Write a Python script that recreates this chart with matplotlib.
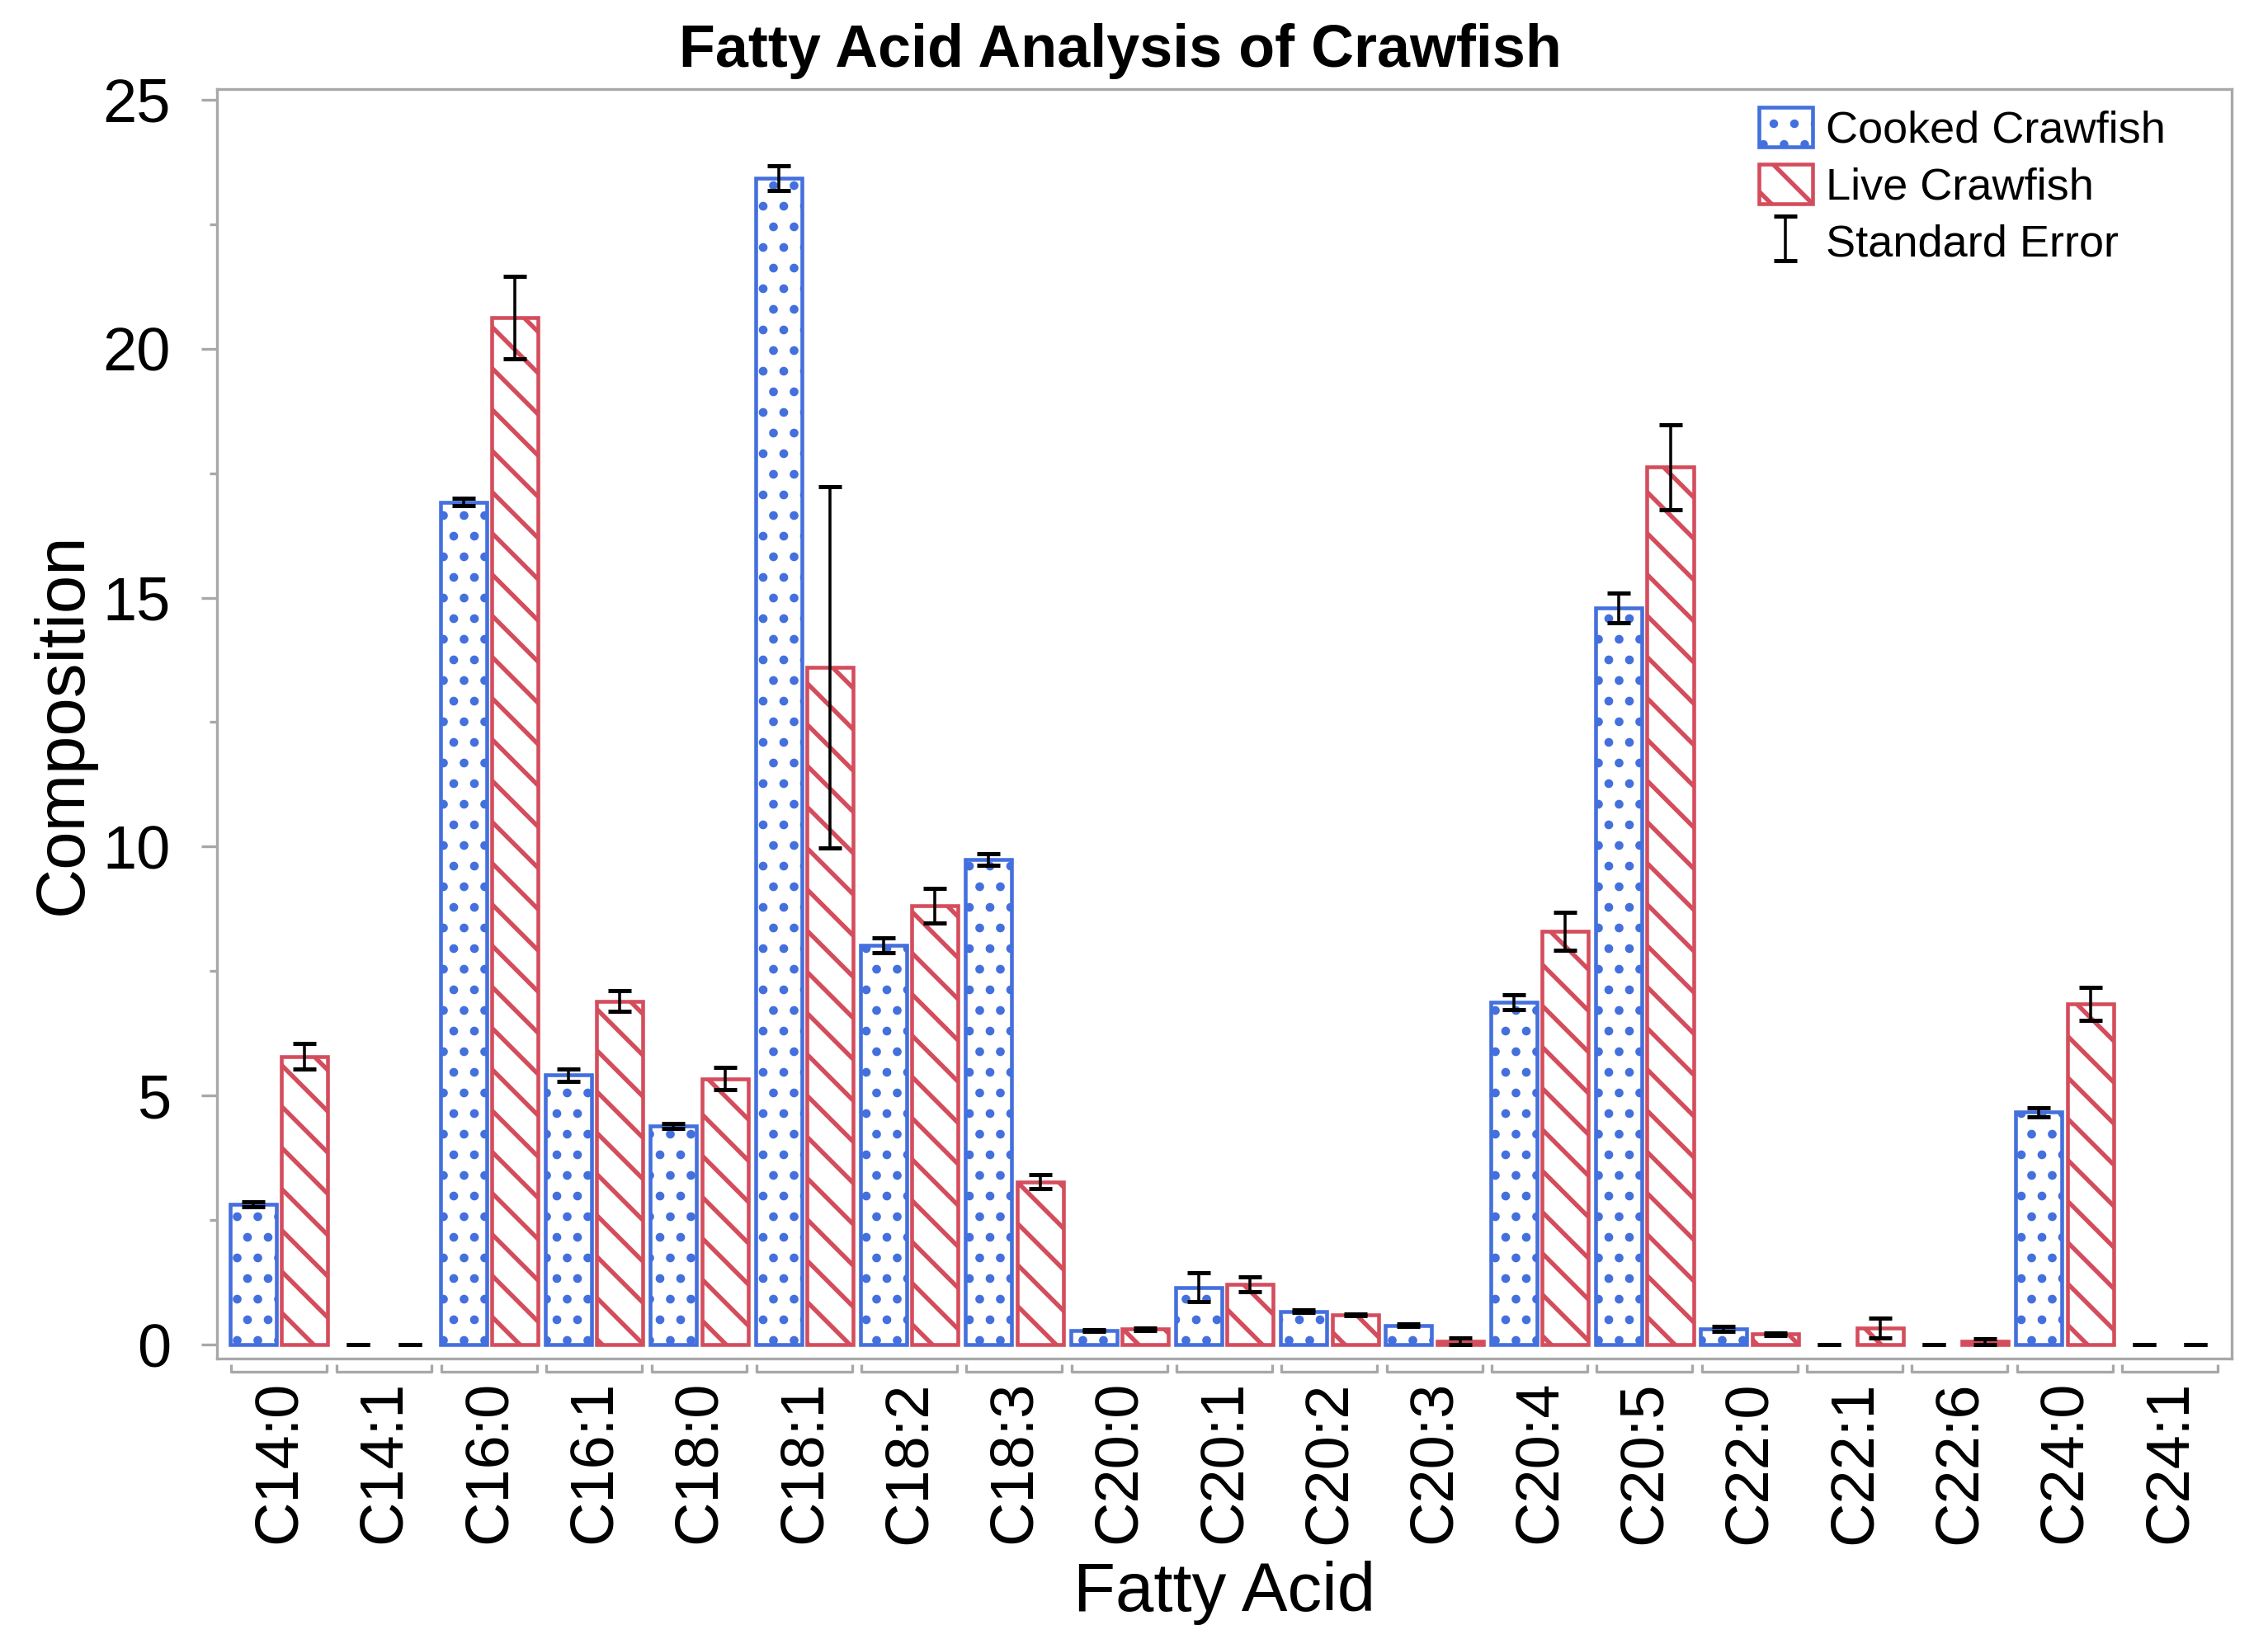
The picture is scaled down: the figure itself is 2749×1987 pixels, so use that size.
import numpy as np
import matplotlib
matplotlib.use("Agg")
import matplotlib.pyplot as plt
import matplotlib.transforms as mtrans
from matplotlib.patches import Patch

acids = ['C14:0', 'C14:1', 'C16:0', 'C16:1', 'C18:0', 'C18:1', 'C18:2', 'C18:3', 'C20:0', 'C20:1',
         'C20:2', 'C20:3', 'C20:4', 'C20:5', 'C22:0', 'C22:1', 'C22:6', 'C24:0', 'C24:1']
cooked = [2.81, 0, 16.92, 5.41, 4.39, 23.42, 8.02, 9.74, 0.28, 1.15, 0.67, 0.39, 6.88, 14.79, 0.31, 0, 0, 4.67, 0]
cooked_se = [0.05, 0, 0.08, 0.12, 0.05, 0.25, 0.15, 0.12, 0.02, 0.29, 0.02, 0.02, 0.15, 0.3, 0.05, 0, 0, 0.09, 0]
live = [5.79, 0, 20.62, 6.9, 5.34, 13.6, 8.81, 3.27, 0.31, 1.21, 0.6, 0.07, 8.3, 17.62, 0.21, 0.34, 0.06, 6.84, 0]
live_se = [0.26, 0, 0.83, 0.2, 0.22, 3.63, 0.35, 0.14, 0.02, 0.15, 0.02, 0.07, 0.38, 0.85, 0.03, 0.2, 0.05, 0.33, 0]

blue = '#4470DD'
red = '#D44D5C'
grey = '#A8A8A8'
dot_lw = 2.7
stripe_lw = 2.6

plt.rcParams['font.family'] = ['Liberation Sans', 'DejaVu Sans']

fig = plt.figure(figsize=(2749 / 150, 1987 / 150), dpi=150)
ax = fig.add_axes([0.0957, 0.1711, 0.984 - 0.0957, 0.9456 - 0.1711])

x = np.arange(len(acids))
w = 0.44
off = 0.245

lw_c = [2.2 if v > 0 else 0 for v in cooked]
lw_l = [2.2 if v > 0 else 0 for v in live]

plt.rcParams['hatch.linewidth'] = dot_lw
bars_c = ax.bar(x - off, cooked, w, color='white', edgecolor=blue, hatch='.', linewidth=lw_c, zorder=2)
cooked_patch = Patch(facecolor='white', edgecolor=blue, hatch='.', linewidth=2.2)
plt.rcParams['hatch.linewidth'] = stripe_lw
bars_l = ax.bar(x + off, live, w, color='white', edgecolor=red, hatch='\\', linewidth=lw_l, zorder=2)
live_patch = Patch(facecolor='white', edgecolor=red, hatch='\\', linewidth=2.2)

# per-patch hatch width where the matplotlib version supports it
for b in list(bars_c) + [cooked_patch]:
    if hasattr(b, 'set_hatch_linewidth'):
        b.set_hatch_linewidth(dot_lw)
for b in list(bars_l) + [live_patch]:
    if hasattr(b, 'set_hatch_linewidth'):
        b.set_hatch_linewidth(stripe_lw)

ax.errorbar(x - off, cooked, yerr=cooked_se, fmt='none', ecolor='black', elinewidth=1.7,
            capsize=6.5, capthick=2.4, zorder=3)
eb = ax.errorbar(x + off, live, yerr=live_se, fmt='none', ecolor='black', elinewidth=1.7,
                 capsize=6.5, capthick=2.4, zorder=3)

ax.set_xlim(-0.59, len(acids) - 1 + 0.59)
ax.set_ylim(-0.28, 25.21)
ax.set_yticks([0, 5, 10, 15, 20, 25])
ax.set_yticks(np.arange(2.5, 25, 5), minor=True)
ax.set_xticks(x)
ax.set_xticklabels(acids, rotation=90, fontsize=35.5)
ax.tick_params(axis='x', length=0, pad=13)
ax.tick_params(axis='y', which='major', length=9, width=1.6, color=grey, labelsize=35.5, pad=18)
ax.tick_params(axis='y', which='minor', length=4.3, width=1.6, color=grey)
for s in ax.spines.values():
    s.set_color(grey)
    s.set_linewidth(1.6)

# group brackets below the x axis
trans = mtrans.blended_transform_factory(ax.transData, ax.transAxes)
for i in x:
    ax.plot([i - 0.455, i - 0.455, i + 0.455, i + 0.455], [-0.0045, -0.0104, -0.0104, -0.0045],
            color=grey, lw=1.6, transform=trans, clip_on=False, solid_capstyle='butt')

ax.set_xlabel('Fatty Acid', fontsize=40)
ax.xaxis.set_label_coords(0.5, -0.159)
ax.set_ylabel('Composition', fontsize=40)
ax.yaxis.set_label_coords(-0.0605, 0.5)
fig.text(0.494, 0.969, 'Fatty Acid Analysis of Crawfish', fontsize=34.5, fontweight='bold',
         ha='center', va='center')

ax.legend([cooked_patch, live_patch, eb], ['Cooked Crawfish', 'Live Crawfish', 'Standard Error'],
          loc='upper right', bbox_to_anchor=(0.976, 1.0), borderaxespad=0, frameon=False,
          fontsize=26, handlelength=1.2, handleheight=1.0, handletextpad=0.3, labelspacing=0.28)

fig.savefig('out.png', dpi=150)
